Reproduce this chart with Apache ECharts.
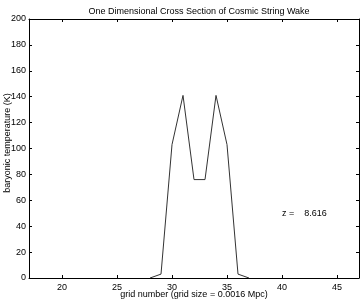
<!DOCTYPE html>
<html>
<head>
<meta charset="utf-8">
<script src="https://cdn.jsdelivr.net/npm/echarts@6/dist/echarts.min.js"></script>
<style>html,body{margin:0;padding:0;background:#fff}#c{width:362px;height:301px}</style>
</head>
<body>
<div id="c"></div>
<script>
var gridNumbers = [28,29,30,31,32,33,34,35,36,37];
var temperatures = [0,3,103,141,76,76,141,103,3,0];
var xTicks = [20,25,30,35,40,45];
var yTicks = [0,20,40,60,80,100,120,140,160,180,200];
var titleText = 'One Dimensional Cross Section of Cosmic String Wake';
var xLabel = 'grid number (grid size = 0.0016 Mpc)';
var yLabel = 'baryonic temperature (K)';
var annotation = 'z =    8.616';

var font = 'Liberation Sans, Arial, Helvetica, sans-serif';
var chart = echarts.init(document.getElementById('c'), null, {renderer: 'canvas'});
var data = gridNumbers.map(function (g, i) { return [g, temperatures[i]]; });
var axisCommon = {
  type: 'value',
  splitLine: {show: false},
  axisLine: {show: true, onZero: false, lineStyle: {color: '#000', width: 1}},
  axisTick: {show: true, inside: true, length: 3, lineStyle: {color: '#000'}}
};
chart.setOption({
  animation: false,
  backgroundColor: '#fff',
  title: {
    text: titleText, left: 194, top: 2, textAlign: 'center',
    textStyle: {fontFamily: font, fontSize: 9, fontWeight: 'normal', color: '#000'}
  },
  grid: {left: 29, right: 3, top: 19, bottom: 23, containLabel: false, outerBoundsMode: 'none'},
  xAxis: [
    Object.assign({}, axisCommon, {
      position: 'bottom', min: 17, max: 47,
      axisTick: {show: true, inside: true, length: 3, customValues: xTicks, lineStyle: {color: '#000'}},
      axisLabel: {show: true, customValues: xTicks, margin: 5, fontFamily: font, fontSize: 9, color: '#000'}
    }),
    Object.assign({}, axisCommon, {
      position: 'top', min: 17, max: 47,
      axisTick: {show: true, inside: true, length: 3, customValues: xTicks, lineStyle: {color: '#000'}},
      axisLabel: {show: false}
    })
  ],
  yAxis: [
    Object.assign({}, axisCommon, {
      position: 'left', min: 0, max: 200, interval: 20,
      axisLabel: {show: true, margin: 3, fontFamily: font, fontSize: 9, color: '#000'}
    }),
    Object.assign({}, axisCommon, {
      position: 'right', min: 0, max: 200, interval: 20,
      axisLabel: {show: false}
    })
  ],
  graphic: [{
    type: 'text', left: 282, top: 209,
    style: {text: annotation, font: '9px ' + font, fill: '#000'}
  }, {
    type: 'text', x: 194, y: 295,
    style: {text: xLabel, font: '9px ' + font, fill: '#000', textAlign: 'center', textVerticalAlign: 'middle'}
  }, {
    type: 'text', x: 7.5, y: 143, rotation: Math.PI / 2,
    style: {text: yLabel, font: '9px ' + font, fill: '#000', textAlign: 'center', textVerticalAlign: 'middle'}
  }],
  series: [{
    type: 'line', data: data, xAxisIndex: 0, yAxisIndex: 0,
    symbol: 'none', lineStyle: {color: '#333', width: 1}, z: 1
  }]
});
</script>
</body>
</html>
